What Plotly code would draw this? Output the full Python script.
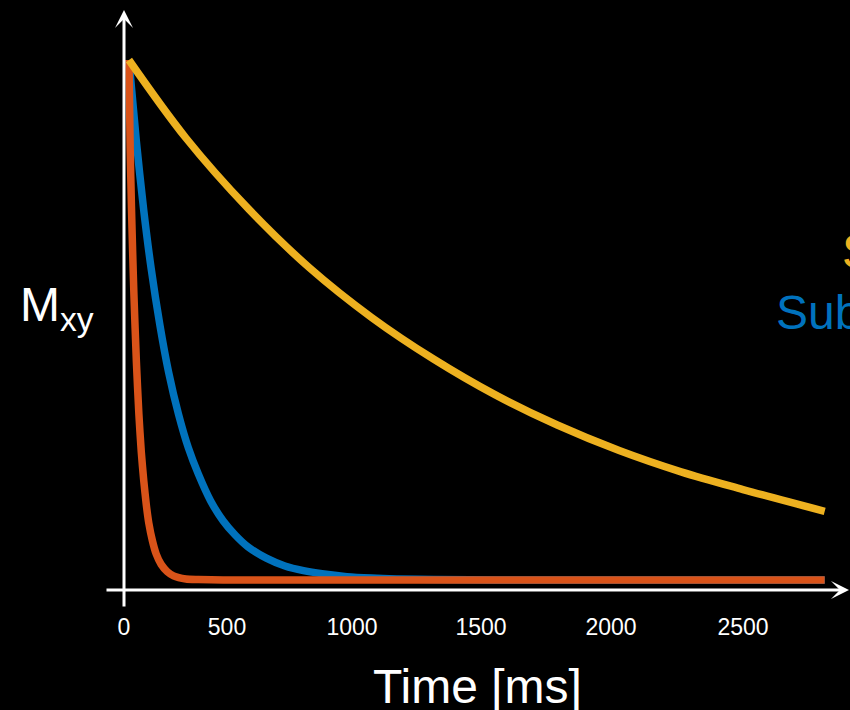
import plotly.graph_objects as go

# ---- data (normalised Mxy) ----
t_long = [20, 250, 500, 750, 1000, 1250, 1500, 1750, 2000, 2250, 2500, 2830]
m_long = [1.0, 0.85, 0.715, 0.60, 0.505, 0.425, 0.356, 0.298, 0.249, 0.208, 0.174, 0.132]

t_mid = [20, 50, 80, 110, 145, 180, 220, 260, 300, 350, 400, 450, 500, 575, 650,
         725, 800, 900, 1000, 1100, 1250, 1500, 2000, 2500, 2830]
m_mid = [1.0, 0.843, 0.71, 0.598, 0.49, 0.40, 0.319, 0.254, 0.204, 0.152, 0.114, 0.086,
         0.064, 0.042, 0.027, 0.018, 0.012, 0.0065, 0.0037, 0.0021, 0.0009, 0.0002, 0, 0, 0]

t_short = [20, 25, 30, 35, 40, 50, 60, 70, 80, 90, 100, 115, 130, 150, 175, 200, 250,
           300, 400, 600, 1000, 1500, 2000, 2500, 2830]
m_short = [1.0, 0.83, 0.72, 0.63, 0.55, 0.42, 0.32, 0.245, 0.19, 0.145, 0.11, 0.075,
           0.05, 0.03, 0.016, 0.008, 0.002, 0.001, 0, 0, 0, 0, 0, 0, 0]

# tick labels and where they sit on the time axis in the reference picture
x_tick_labels = ["0", "500", "1000", "1500", "2000", "2500"]
x_tick_positions = [0, 416, 921, 1442, 1967, 2500]

label_long = "Synovial fluid"
label_mid = "Subcutaneous fat"

YELLOW = "#EDB120"
BLUE = "#0072BD"
RED = "#D95319"
FONT = "Liberation Sans, Arial, sans-serif"

fig = go.Figure()
fig.add_trace(go.Scatter(x=t_mid, y=m_mid, mode="lines",
                         line=dict(color=BLUE, width=7.5, shape="spline", smoothing=0.8)))
fig.add_trace(go.Scatter(x=t_short, y=m_short, mode="lines",
                         line=dict(color=RED, width=7.5, shape="spline", smoothing=0.6)))
fig.add_trace(go.Scatter(x=t_long, y=m_long, mode="lines",
                         line=dict(color=YELLOW, width=7.5, shape="spline", smoothing=1.0)))

W, H = 850, 710
plot_h = 600

annotations = [
    # x axis with arrow
    dict(xref="paper", yref="paper", x=858 / W, y=(plot_h - 590) / plot_h,
         ax=105 - 858, ay=0, axref="pixel", ayref="pixel", text="",
         showarrow=True, arrowhead=3, arrowsize=1, arrowwidth=3,
         arrowcolor="white", standoff=0),
    # y axis with arrow
    dict(xref="x", yref="paper", x=0, y=(plot_h - 10) / plot_h,
         ax=0, ay=598, axref="pixel", ayref="pixel", text="",
         showarrow=True, arrowhead=3, arrowsize=1, arrowwidth=3,
         arrowcolor="white", standoff=0),
    dict(xref="paper", yref="paper", x=477 / W, y=(plot_h - 686) / plot_h,
         xanchor="center", yanchor="middle", showarrow=False, text="Time [ms]",
         font=dict(family=FONT, size=48, color="white")),
    dict(xref="paper", yref="paper", x=18 / W, y=(plot_h - 308) / plot_h,
         xanchor="left", yanchor="middle", showarrow=False, text="M<sub>xy</sub>",
         font=dict(family=FONT, size=48, color="white")),
    dict(xref="paper", yref="paper", x=839.5 / W, y=(plot_h - 251) / plot_h,
         xanchor="left", yanchor="middle", showarrow=False, text=label_long,
         font=dict(family=FONT, size=48, color=YELLOW)),
    dict(xref="paper", yref="paper", x=773.5 / W, y=(plot_h - 312) / plot_h,
         xanchor="left", yanchor="middle", showarrow=False, text=label_mid,
         font=dict(family=FONT, size=48, color=BLUE)),
]

fig.update_layout(
    width=W, height=H,
    margin=dict(l=0, r=0, t=0, b=H - plot_h, pad=0),
    paper_bgcolor="black", plot_bgcolor="black",
    showlegend=False,
    annotations=annotations,
    xaxis=dict(range=[-500.8, 2932.2], showgrid=False, zeroline=False, showline=False,
               tickmode="array", tickvals=x_tick_positions, ticktext=x_tick_labels,
               ticks="outside", ticklen=6, tickcolor="rgba(0,0,0,0)",
               tickfont=dict(family=FONT, size=23, color="white"), fixedrange=True),
    yaxis=dict(range=[-0.03846, 1.11538], showgrid=False, zeroline=False, showline=False,
               showticklabels=False, ticks="", fixedrange=True),
)

fig.write_html(
    "out.html",
    config={"displayModeBar": False},
    post_script="document.body.style.margin='0';document.body.style.background='black';"
                "document.body.style.overflow='hidden';",
)
